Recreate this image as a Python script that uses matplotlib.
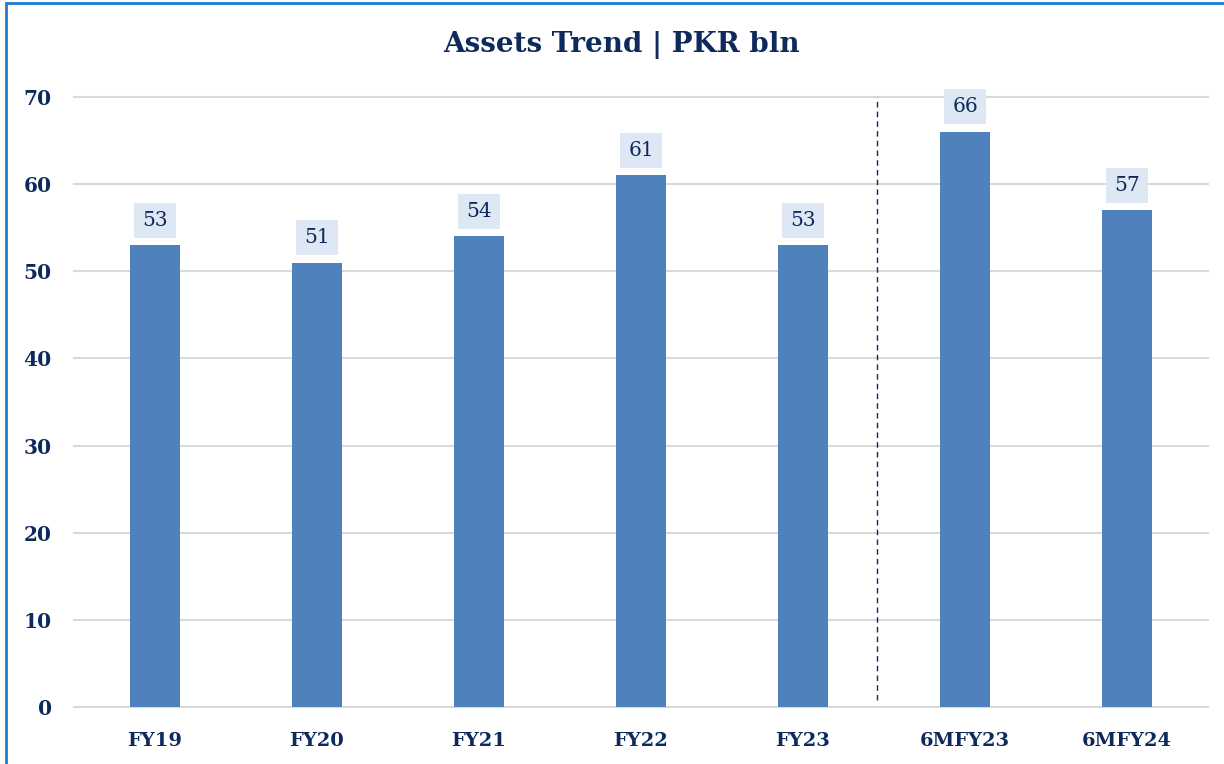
import matplotlib.pyplot as plt
from matplotlib.patches import Rectangle

# Daten
categories = ['FY19', 'FY20', 'FY21', 'FY22', 'FY23', '6MFY23', '6MFY24']
assets = [53, 51, 54, 61, 53, 66, 57]
y_ticks = [0, 10, 20, 30, 40, 50, 60, 70]

navy = '#0E2A5C'
bar_color = '#4F81BD'

plt.rcParams['font.family'] = ['DejaVu Serif']

fig = plt.figure(figsize=(12.24, 7.64), dpi=100)
ax = fig.add_axes([74 / 1224, 1 - 707 / 764, 1134 / 1224, 610 / 764])

x = range(len(categories))
ax.bar(x, assets, width=0.31, color=bar_color, zorder=3)

# Werte-Labels mit hellblauem Kasten
for i, v in zip(x, assets):
    ax.annotate(str(v), (i, v), xytext=(0, 18), textcoords='offset points',
                ha='center', va='center', fontsize=14.5, color=navy,
                bbox=dict(boxstyle='square,pad=0.4', fc='#DEE8F4', ec='none'),
                zorder=4)

ax.set_xlim(-0.5, len(categories) - 0.5)
ax.set_ylim(0, 70)
ax.set_yticks(y_ticks)
ax.set_xticks(list(x))
ax.set_xticklabels(categories, fontsize=14, fontweight='bold', color=navy)
ax.set_yticklabels([str(t) for t in y_ticks], fontsize=14.5, fontweight='bold', color=navy)
ax.tick_params(length=0)
ax.tick_params(axis='x', pad=18)
ax.tick_params(axis='y', pad=16)

ax.grid(axis='y', color='#D9D9D9', linewidth=1.5, zorder=0)
for line in ax.get_ygridlines():
    line.set_clip_on(False)
for s in ax.spines.values():
    s.set_visible(False)

# Trennlinie zwischen Jahres- und Halbjahreswerten
ax.plot([4.457, 4.457], [0.8, 70], color=navy, linestyle=(0, (4, 3)), linewidth=1, zorder=2)

fig.text(622 / 1224, 1 - 45 / 764, 'Assets Trend | PKR bln', ha='center', va='center',
         fontsize=20, fontweight='bold', color=navy)

# Rahmen
fig.patches.append(Rectangle((6 / 1224, -0.1), 1.2, 1 - 3 / 764 + 0.1,
                             transform=fig.transFigure, fill=False,
                             edgecolor='#1F7BD0', linewidth=2))

fig.savefig('out.png', dpi=100)
